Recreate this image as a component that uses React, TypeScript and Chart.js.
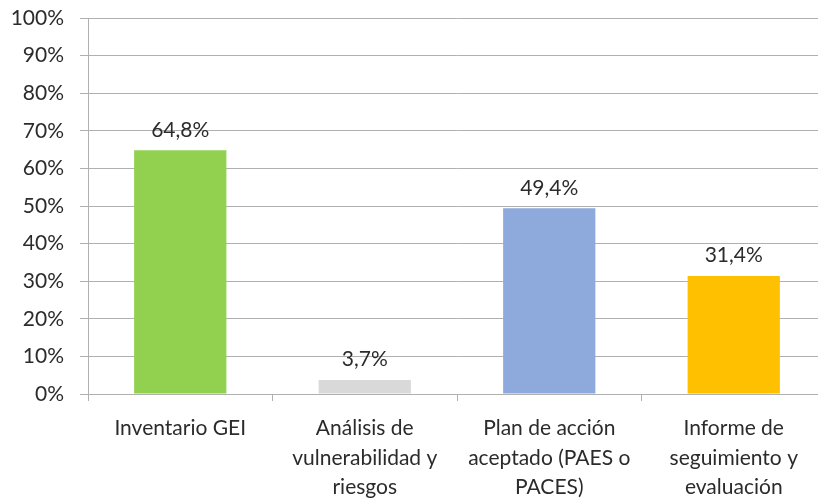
import React, { useEffect, useRef } from "react";
import { Chart, registerables } from "chart.js";

Chart.register(...registerables);

const categories: string[][] = [
  ["Inventario GEI"],
  ["Análisis de", "vulnerabilidad y", "riesgos"],
  ["Plan de acción", "aceptado (PAES o", "PACES)"],
  ["Informe de", "seguimiento y", "evaluación"],
];
const values: number[] = [64.8, 3.7, 49.4, 31.4];
const barColors: string[] = ["#92D050", "#D9D9D9", "#8EA9DB", "#FFC000"];
const yTicks: number[] = [0, 10, 20, 30, 40, 50, 60, 70, 80, 90, 100];

const FONT = "Lato, 'Open Sans', sans-serif";
const TEXT = "#2b2b2b";
const GRID = "#b0b0b0";
const FS = 21;

const valueLabels = {
  id: "valueLabels",
  afterDatasetsDraw(chart: any) {
    const ctx = chart.ctx;
    const meta = chart.getDatasetMeta(0);
    ctx.save();
    ctx.font = `${FS}px ${FONT}`;
    ctx.fillStyle = TEXT;
    ctx.textAlign = "center";
    ctx.textBaseline = "bottom";
    meta.data.forEach((bar: any, i: number) => {
      const v = values[i];
      const txt = v.toFixed(1).replace(".", ",") + "%";
      ctx.fillText(txt, bar.x, bar.y - 10);
    });
    ctx.restore();
  },
};

export default function App() {
  const ref = useRef<HTMLCanvasElement | null>(null);
  useEffect(() => {
    document.body.style.margin = "0";
    document.body.style.overflow = "hidden";
    const chart = new Chart(ref.current!, {
      type: "bar",
      data: {
        labels: categories,
        datasets: [
          {
            data: values,
            backgroundColor: barColors,
            borderWidth: 0,
            categoryPercentage: 1,
            barPercentage: 0.5,
          },
        ],
      },
      options: {
        animation: false,
        responsive: false,
        maintainAspectRatio: false,
        layout: { padding: { top: 18, right: 0, bottom: 0, left: 0 } },
        plugins: {
          legend: { display: false },
          tooltip: { enabled: false },
        },
        scales: {
          x: {
            grid: {
              drawOnChartArea: false,
              drawTicks: true,
              tickLength: 7,
              color: GRID,
              offset: true,
            },
            border: { color: GRID, width: 1 },
            ticks: {
              color: TEXT,
              font: { family: FONT, size: FS, lineHeight: 1.4 },
              padding: 13,
              maxRotation: 0,
              autoSkip: false,
            },
            afterFit: (s: any) => {
              s.height = 104;
              s.paddingLeft = 0;
              s.paddingRight = 0;
            },
          },
          y: {
            min: 0,
            max: 100,
            afterBuildTicks: (s: any) => {
              s.ticks = yTicks.map((v) => ({ value: v }));
            },
            grid: {
              color: GRID,
              drawTicks: true,
              tickLength: 8,
            },
            border: { color: GRID, width: 1 },
            ticks: {
              color: TEXT,
              font: { family: FONT, size: FS },
              padding: 16,
              callback: (v: any) => v + "%",
            },
            afterFit: (s: any) => {
              s.width = 88;
              s.paddingTop = 0;
              s.paddingBottom = 0;
            },
          },
        },
      },
      plugins: [valueLabels],
    });
    return () => chart.destroy();
  }, []);
  return (
    <div
      style={{
        position: "fixed",
        left: 0,
        top: 0,
        width: 818,
        height: 498,
        overflow: "hidden",
        background: "#fff",
      }}
    >
      <canvas ref={ref} width={826} height={498} style={{ display: "block" }} />
    </div>
  );
}
